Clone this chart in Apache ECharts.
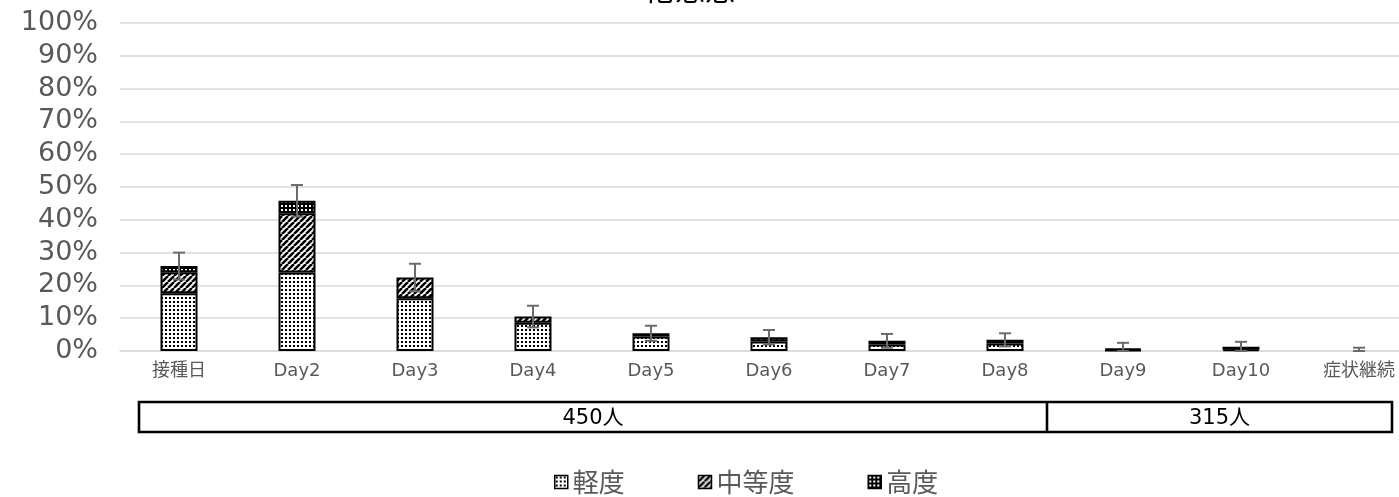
<!DOCTYPE html>
<html>
<head>
<meta charset="utf-8">
<script src="https://cdn.jsdelivr.net/npm/echarts@6/dist/echarts.min.js"></script>
<style>
html,body{margin:0;padding:0;background:#fff;overflow:hidden;}
#c{width:1399px;height:497px;}
</style>
</head>
<body>
<div id="c"></div>
<script>
const titleText = '倦怠感';
const categories = ['接種日','Day2','Day3','Day4','Day5','Day6','Day7','Day8','Day9','Day10','症状継続'];
const seriesNames = ['軽度','中等度','高度'];
const mild     = [17.6, 23.9, 16.1, 8.6, 4.4, 2.9, 2.0, 2.3, 0.3, 0.4, 0];
const moderate = [6.4, 18.1, 6.3, 1.9, 1.0, 1.3, 1.1, 1.1, 0.4, 0.9, 0];
const severe   = [1.9, 3.8, 0, 0, 0, 0, 0, 0, 0, 0, 0];
const errors   = [4.1, 4.8, 4.2, 3.3, 2.3, 2.2, 2.1, 2.0, 1.8, 1.5, 1.0];
const groupLabels = ['450人','315人'];

function pattern(kind){
  const c = document.createElement('canvas');
  const ctx = c.getContext('2d');
  if (kind === 'dots'){
    c.width = 4; c.height = 4;
    ctx.fillStyle = '#fff'; ctx.fillRect(0,0,4,4);
    ctx.fillStyle = '#000'; ctx.fillRect(1,1,2,2);
  } else if (kind === 'stripes'){
    c.width = 6; c.height = 6;
    ctx.fillStyle = '#fff'; ctx.fillRect(0,0,6,6);
    ctx.strokeStyle = '#000'; ctx.lineWidth = 2.6;
    ctx.beginPath();
    for (const k of [-6,0,6]){ ctx.moveTo(k,6); ctx.lineTo(k+6,0); }
    ctx.stroke();
  } else {
    c.width = 4; c.height = 4;
    ctx.fillStyle = '#000'; ctx.fillRect(0,0,4,4);
    ctx.fillStyle = '#fff'; ctx.fillRect(1,1,2,2);
  }
  return {image: c, repeat: 'repeat'};
}
const fills = [pattern('dots'), pattern('stripes'), pattern('solid')];
const dataSets = [mild, moderate, severe];
const totals = categories.map((_, i) => mild[i] + moderate[i] + severe[i]);

const chart = echarts.init(document.getElementById('c'), null, {renderer:'canvas'});
const barSeries = seriesNames.map((n, k) => ({
  name: n,
  type: 'bar',
  stack: 'total',
  barWidth: 37,
  data: dataSets[k].map(v => v === 0 ? '-' : v),
  itemStyle: {color: fills[k], borderColor: '#000', borderWidth: 2},
  emphasis: {disabled: true},
  z: 2
}));

const errSeries = {
  type: 'custom',
  name: 'err',
  z: 5,
  data: categories.map((_, i) => [i, totals[i], errors[i]]),
  encode: {x: 0, y: 1},
  renderItem: function(params, api){
    const i = api.value(0), v = api.value(1), e = api.value(2);
    const top = api.coord([i, v + e]);
    const bot = api.coord([i, Math.max(0, v - e)]);
    const hw = 6;
    const st = {stroke: '#6b6b6b', lineWidth: 2};
    return {type: 'group', children: [
      {type:'line', shape:{x1:top[0], y1:top[1], x2:bot[0], y2:bot[1]}, style: st},
      {type:'line', shape:{x1:top[0]-hw, y1:top[1], x2:top[0]+hw, y2:top[1]}, style: st},
      {type:'line', shape:{x1:bot[0]-hw, y1:bot[1], x2:bot[0]+hw, y2:bot[1]}, style: st}
    ]};
  }
};

const boxLeft = 139, boxRight = 1392, boxDiv = 1047, boxTop = 402, boxH = 30;

chart.setOption({
  animation: false,
  backgroundColor: '#fff',
  title: {
    text: titleText, left: 645, top: -26, padding: 0,
    textStyle: {fontSize: 30, fontWeight: 'normal', color: '#000', fontFamily: 'Noto Sans CJK JP'}
  },
  grid: {left: 120, width: 1298, top: 23, height: 328, containLabel: false, outerBoundsMode: 'none'},
  legend: {
    data: seriesNames,
    left: 549, top: 464,
    icon: 'rect', itemWidth: 13, itemHeight: 13, itemGap: 73,
    itemStyle: {borderColor: '#000', borderWidth: 1.5},
    textStyle: {fontSize: 26, color: '#595959', fontFamily: 'Noto Sans CJK JP'}
  },
  xAxis: {
    type: 'category',
    data: categories,
    axisLine: {show: true, lineStyle: {color: '#d9d9d9', width: 1.5}},
    axisTick: {show: false},
    axisLabel: {color: '#595959', fontSize: 18, margin: 11, interval: 0, fontFamily: 'DejaVu Sans, Noto Sans CJK JP'}
  },
  yAxis: {
    type: 'value', min: 0, max: 100, interval: 10,
    axisLine: {show: false}, axisTick: {show: false},
    splitLine: {lineStyle: {color: '#d9d9d9', width: 1.5}},
    axisLabel: {formatter: '{value}%', color: '#595959', fontSize: 27, margin: 22, fontFamily: 'DejaVu Sans'}
  },
  graphic: [
    {type:'rect', shape:{x: boxLeft, y: boxTop, width: boxRight - boxLeft, height: boxH}, style:{fill:'none', stroke:'#000', lineWidth: 2.6}},
    {type:'line', shape:{x1: boxDiv, y1: boxTop, x2: boxDiv, y2: boxTop + boxH}, style:{stroke:'#000', lineWidth: 2.6}},
    {type:'text', x: (boxLeft + boxDiv)/2, y: boxTop + boxH/2 + 2, style:{text: groupLabels[0], fill:'#000', fontSize: 21, align:'center', verticalAlign:'middle', fontFamily:'DejaVu Sans, Noto Sans CJK JP'}},
    {type:'text', x: (boxDiv + boxRight)/2, y: boxTop + boxH/2 + 2, style:{text: groupLabels[1], fill:'#000', fontSize: 21, align:'center', verticalAlign:'middle', fontFamily:'DejaVu Sans, Noto Sans CJK JP'}}
  ],
  series: barSeries.concat([errSeries])
});
</script>
</body>
</html>
